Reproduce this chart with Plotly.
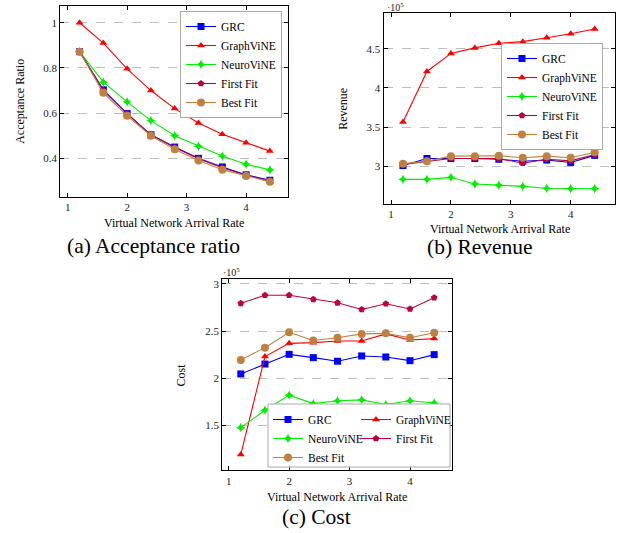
import plotly.graph_objects as go

W, H = 622, 533

# ---------------- data ----------------
x_rate = [1.2, 1.6, 2.0, 2.4, 2.8, 3.2, 3.6, 4.0, 4.4]
series_names = ["GRC", "GraphViNE", "NeuroViNE", "First Fit", "Best Fit"]

# (a) acceptance ratio
acc_grc = [0.872, 0.703, 0.598, 0.504, 0.450, 0.400, 0.362, 0.327, 0.303]
acc_graphvine = [1.000, 0.910, 0.796, 0.700, 0.620, 0.556, 0.507, 0.469, 0.432]
acc_neurovine = [0.872, 0.737, 0.650, 0.567, 0.500, 0.454, 0.410, 0.374, 0.349]
acc_firstfit = [0.872, 0.700, 0.597, 0.504, 0.448, 0.398, 0.358, 0.325, 0.300]
acc_bestfit = [0.872, 0.690, 0.588, 0.500, 0.440, 0.390, 0.350, 0.322, 0.296]

# (b) revenue (x 10^5)
rev_grc = [3.01, 3.10, 3.10, 3.10, 3.09, 3.065, 3.08, 3.05, 3.14]
rev_graphvine = [3.565, 4.21, 4.44, 4.51, 4.57, 4.59, 4.64, 4.69, 4.75]
rev_neurovine = [2.834, 2.834, 2.86, 2.775, 2.76, 2.745, 2.72, 2.715, 2.715]
rev_firstfit = [3.025, 3.065, 3.10, 3.10, 3.10, 3.04, 3.09, 3.07, 3.15]
rev_bestfit = [3.034, 3.065, 3.13, 3.13, 3.135, 3.11, 3.13, 3.11, 3.18]

# (c) cost (x 10^5)
cost_grc = [2.045, 2.15, 2.253, 2.218, 2.18, 2.236, 2.225, 2.186, 2.25]
cost_graphvine = [1.19, 2.23, 2.37, 2.377, 2.395, 2.395, 2.47, 2.405, 2.42]
cost_neurovine = [1.475, 1.66, 1.82, 1.73, 1.76, 1.77, 1.72, 1.76, 1.737]
cost_firstfit = [2.795, 2.88, 2.88, 2.837, 2.80, 2.73, 2.79, 2.735, 2.855]
cost_bestfit = [2.193, 2.324, 2.487, 2.40, 2.43, 2.47, 2.476, 2.43, 2.483]

acc_ticks = [0.4, 0.6, 0.8, 1.0]
acc_ticktext = ["0.4", "0.6", "0.8", "1"]
rev_ticks = [3.0, 3.5, 4.0, 4.5]
rev_ticktext = ["3", "3.5", "4", "4.5"]
cost_ticks = [1.5, 2.0, 2.5, 3.0]
cost_ticktext = ["1.5", "2", "2.5", "3"]
x_ticks = [1, 2, 3, 4]

# ---------------- style ----------------
FONT = "Liberation Serif"
colors = {"GRC": "#0000ff", "GraphViNE": "#ff0000", "NeuroViNE": "#00ee00",
          "First Fit": "#bf0040", "Best Fit": "#bf8040"}
symbols = {"GRC": "square", "GraphViNE": "triangle-up", "NeuroViNE": "star-diamond",
           "First Fit": "pentagon", "Best Fit": "circle"}
msize = {"GRC": 7, "GraphViNE": 7, "NeuroViNE": 7, "First Fit": 7, "Best Fit": 8}


def px_x(p):
    return p / W


def px_y(p):
    return 1 - p / H


fig = go.Figure()

panels = [
    ("x", "y", "legend", [acc_grc, acc_graphvine, acc_neurovine, acc_firstfit, acc_bestfit]),
    ("x2", "y2", "legend2", [rev_grc, rev_graphvine, rev_neurovine, rev_firstfit, rev_bestfit]),
    ("x3", "y3", None, [cost_grc, cost_graphvine, cost_neurovine, cost_firstfit, cost_bestfit]),
]
c_legend = {"GRC": "legend3", "NeuroViNE": "legend3", "Best Fit": "legend3",
            "GraphViNE": "legend4", "First Fit": "legend4"}

for xa, ya, leg, series in panels:
    for name, vals in zip(series_names, series):
        fig.add_trace(go.Scatter(
            x=x_rate, y=vals, name=name, xaxis=xa, yaxis=ya,
            mode="lines+markers",
            line=dict(color=colors[name], width=1.1),
            marker=dict(symbol=symbols[name], size=msize[name], color=colors[name],
                        line=dict(width=0)),
            legend=leg if leg else c_legend[name],
            cliponaxis=False,
        ))

axis_common = dict(showline=True, linecolor="black", linewidth=1.3, mirror="ticks",
                   ticks="inside", ticklen=4, tickcolor="black", tickwidth=1,
                   tickfont=dict(family=FONT, size=11, color="#222"), zeroline=False)

# domains measured in pixels
dom = {
    "a": dict(x=[px_x(60.3), px_x(287.7)], y=[px_y(197), px_y(6)]),
    "b": dict(x=[px_x(383.7), px_x(615)], y=[px_y(204), px_y(13)]),
    "c": dict(x=[px_x(222.3), px_x(452.3)], y=[px_y(470.3), px_y(279)]),
}

fig.update_layout(
    width=W, height=H, margin=dict(l=0, r=0, t=0, b=0),
    paper_bgcolor="white", plot_bgcolor="white",
    font=dict(family=FONT, color="black"),
    xaxis=dict(domain=dom["a"]["x"], anchor="y", range=[0.876, 4.70], tickvals=x_ticks,
               showgrid=False, **axis_common),
    yaxis=dict(domain=dom["a"]["y"], anchor="x", range=[0.229, 1.074], tickvals=acc_ticks,
               ticktext=acc_ticktext, showgrid=True, gridcolor="#bdbdbd", griddash="dash",
               gridwidth=1, **axis_common),
    xaxis2=dict(domain=dom["b"]["x"], anchor="y2", range=[0.878, 4.74], tickvals=x_ticks,
                showgrid=False, **axis_common),
    yaxis2=dict(domain=dom["b"]["y"], anchor="x2", range=[2.52, 4.955], tickvals=rev_ticks,
                ticktext=rev_ticktext, showgrid=True, gridcolor="#bdbdbd", griddash="dash",
                gridwidth=1, **axis_common),
    xaxis3=dict(domain=dom["c"]["x"], anchor="y3", range=[0.894, 4.70], tickvals=x_ticks,
                showgrid=False, **axis_common),
    yaxis3=dict(domain=dom["c"]["y"], anchor="x3", range=[1.022, 3.053], tickvals=cost_ticks,
                ticktext=cost_ticktext, showgrid=True, gridcolor="#bdbdbd", griddash="dash",
                gridwidth=1, **axis_common),
)

leg_font = dict(family=FONT, size=11.5, color="black")
fig.update_layout(
    legend=dict(x=px_x(282), y=px_y(11), xanchor="right", yanchor="top",
                bgcolor="white", bordercolor="#aaaaaa", borderwidth=1, font=leg_font),
    legend2=dict(x=px_x(603), y=px_y(150), xanchor="right", yanchor="bottom",
                 bgcolor="white", bordercolor="#aaaaaa", borderwidth=1, font=leg_font),
    legend3=dict(x=px_x(268), y=px_y(405), xanchor="left", yanchor="top",
                 bgcolor="rgba(0,0,0,0)", borderwidth=0, font=leg_font),
    legend4=dict(x=px_x(356), y=px_y(405), xanchor="left", yanchor="top",
                 bgcolor="rgba(0,0,0,0)", borderwidth=0, font=leg_font),
)

# legend frame for panel (c)
fig.add_shape(type="rect", xref="paper", yref="paper",
              x0=px_x(268), x1=px_x(450), y0=px_y(467), y1=px_y(404),
              line=dict(color="#aaaaaa", width=1), fillcolor="white", layer="above")

ann = []
# x-axis titles
for cx, cy in [(174, 222.7), (499.5, 229), (337, 497.3)]:
    ann.append(dict(text="Virtual Network Arrival Rate", x=px_x(cx), y=px_y(cy),
                    xref="paper", yref="paper", showarrow=False, xanchor="center",
                    yanchor="middle", font=dict(family=FONT, size=12)))
# y-axis titles
for txt, cx, cy in [("Acceptance Ratio", 19.3, 101.5), ("Revenue", 343.3, 108.5),
                    ("Cost", 180.7, 374.7)]:
    ann.append(dict(text=txt, x=px_x(cx), y=px_y(cy), xref="paper", yref="paper",
                    showarrow=False, textangle=-90, xanchor="center", yanchor="middle",
                    font=dict(family=FONT, size=12)))
# exponent labels
for cx, cy in [(385, 7.5), (220.5, 272)]:
    ann.append(dict(text="·10<sup>5</sup>", x=px_x(cx), y=px_y(cy), xref="paper",
                    yref="paper", showarrow=False, xanchor="left", yanchor="middle",
                    font=dict(family=FONT, size=10, color="#222")))
# captions
for txt, cx, cy in [("(a) Acceptance ratio", 153, 246), ("(b) Revenue", 479.5, 247),
                    ("(c) Cost", 316.7, 517)]:
    ann.append(dict(text=txt, x=px_x(cx), y=px_y(cy), xref="paper", yref="paper",
                    showarrow=False, xanchor="center", yanchor="middle",
                    font=dict(family=FONT, size=21.5)))
fig.update_layout(annotations=ann)

fig.write_html("out.html", config={"displayModeBar": False},
               post_script="document.body.style.margin='0';document.body.style.padding='0';")
